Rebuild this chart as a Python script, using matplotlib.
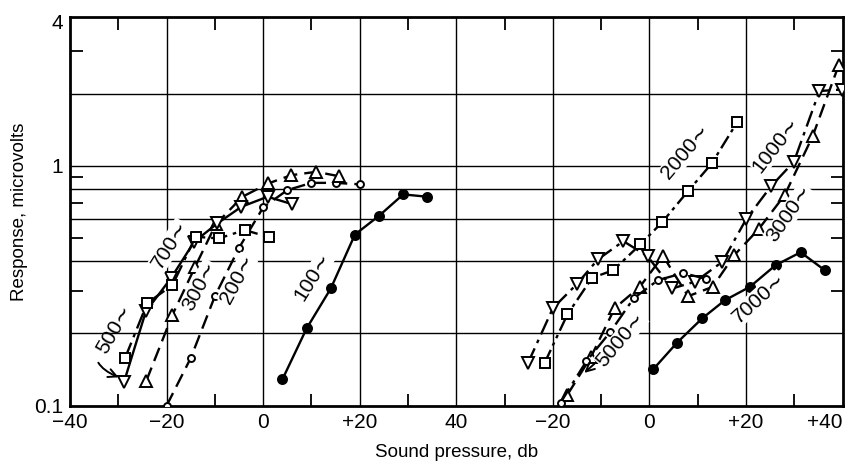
import numpy as np
import matplotlib
matplotlib.use("Agg")
import matplotlib.pyplot as plt

plt.rcParams['font.family'] = ['Liberation Sans', 'DejaVu Sans']

# left group (offset 40 on the shared axis), sound pressure in db
db100 = [4, 9, 14, 19, 24, 29, 34]
r100 = [0.129, 0.21, 0.308, 0.517, 0.619, 0.76, 0.743]
db200 = [-20, -15, -10, -5, 0, 5, 10, 15, 20]
r200 = [0.1, 0.158, 0.286, 0.455, 0.671, 0.792, 0.849, 0.849, 0.837]
db300 = [-24.2, -18.8, -14.1, -9.8, -4.3, 1.1, 5.8, 11.0, 15.7]
r300 = [0.127, 0.239, 0.379, 0.571, 0.743, 0.845, 0.914, 0.944, 0.905]
db500 = [-28.8, -24.3, -19.1, -14.3, -9.5, -4.5, 0.9, 6.0]
r500 = [0.126, 0.247, 0.34, 0.482, 0.575, 0.675, 0.743, 0.692]
db700 = [-28.6, -24.0, -18.8, -14.0, -9.2, -3.8, 1.3]
r700 = [0.158, 0.268, 0.318, 0.506, 0.498, 0.540, 0.503]

# right group (offset 120)
db1000 = [-25.2, -20.0, -15.0, -10.7, -5.4, -0.4, 4.7, 9.5, 15.1, 20.0, 25.2, 29.9, 35.2, 39.8]
r1000 = [0.150, 0.255, 0.322, 0.407, 0.485, 0.420, 0.308, 0.329, 0.398, 0.598, 0.823, 1.039, 2.05, 2.08]
db2000 = [-21.7, -17.0, -11.9, -7.5, -1.9, 2.6, 8.0, 12.9, 18.2]
r2000 = [0.151, 0.240, 0.341, 0.367, 0.470, 0.581, 0.785, 1.023, 1.525]
db3000 = [-17.0, -12.1, -7.2, -2.0, 2.8, 8.0, 13.1, 17.6, 22.6, 28.0, 33.8, 39.2]
r3000 = [0.111, 0.160, 0.255, 0.313, 0.421, 0.286, 0.313, 0.425, 0.544, 0.755, 1.33, 2.63]
db5000 = [-18.4, -13.1, -8.1, -3.3, 1.8, 7.0, 11.7]
r5000 = [0.103, 0.153, 0.203, 0.280, 0.334, 0.357, 0.338]
db7000 = [0.8, 5.7, 10.9, 15.6, 20.8, 26.1, 31.3, 36.3]
r7000 = [0.142, 0.183, 0.231, 0.275, 0.313, 0.385, 0.436, 0.367]

xtick_labels = ['\u221240', '\u221220', '0', '+20', '40', '\u221220', '0', '+20', '+40']

LEFT, RIGHT = 40, 120
dash = (0, (6, 3))
dashdot = (0, (7, 2.5, 1.5, 2.5))
dashdotdot = (0, (6, 2, 1.5, 2, 1.5, 2))

fig = plt.figure(figsize=(8.52, 4.61), dpi=100)
ax = fig.add_axes([0.0822, 0.12, 0.9068, 0.843])
ax.set_yscale('log')
ax.set_xlim(0, 160)
ax.set_ylim(0.1, 4.17)

for g in [0.2, 0.4, 0.6, 0.8, 1, 2]:
    ax.axhline(g, color='k', lw=1.0, zorder=1)
for g in range(20, 160, 20):
    ax.axvline(g, color='k', lw=1.0, zorder=1)

def curve(db, r, off, ls, marker, ms, filled=False):
    x = np.array(db) + off
    ax.plot(x, r, color='k', lw=1.7, ls=ls, marker=marker, ms=ms,
            mfc='k' if filled else 'white', mec='k', mew=1.4, zorder=3)

curve(db100, r100, LEFT, '-', 'o', 6.5, filled=True)
curve(db200, r200, LEFT, dash, 'o', 5)
curve(db300, r300, LEFT, dash, '^', 8)
curve(db500, r500, LEFT, '-', 'v', 8)
curve(db700, r700, LEFT, dashdot, 's', 7.5)

curve(db1000, r1000, RIGHT, dashdot, 'v', 8)
curve(db2000, r2000, RIGHT, dashdotdot, 's', 7.5)
curve(db3000, r3000, RIGHT, dash, '^', 8)
curve(db5000, r5000, RIGHT, dashdot, 'o', 5)
curve(db7000, r7000, RIGHT, '-', 'o', 6.5, filled=True)

lab = dict(fontsize=15, ha='center', va='center', zorder=4,
           bbox=dict(fc='white', ec='none', pad=0.3))
ax.text(20.7, 0.467, '700\u223c', rotation=58, **lab)
ax.text(26.9, 0.315, '300\u223c', rotation=62, **lab)
ax.text(34.6, 0.335, '200\u223c', rotation=62, **lab)
ax.text(50.3, 0.344, '100\u223c', rotation=58, **lab)
ax.text(127.5, 1.14, '2000\u223c', rotation=50, **lab)
ax.text(146.2, 1.22, '1000\u223c', rotation=52, **lab)
ax.text(148.9, 0.63, '3000\u223c', rotation=55, **lab)
ax.text(142.7, 0.281, '7000\u223c', rotation=42, **lab)
ax.annotate('500\u223c', xy=(db500[0] + LEFT - 0.6, 0.13), xytext=(9.3, 0.207),
            rotation=60, fontsize=15, ha='center', va='center', zorder=4,
            arrowprops=dict(arrowstyle='->', color='k', lw=1.4,
                            connectionstyle='arc3,rad=0.9', shrinkA=2, shrinkB=2))
ax.annotate('5000\u223c', xy=(-13.5 + RIGHT, 0.137), xytext=(114.1, 0.188),
            rotation=50, fontsize=15, ha='center', va='center', zorder=4,
            bbox=dict(fc='white', ec='none', pad=0.3),
            arrowprops=dict(arrowstyle='->', color='k', lw=1.4, shrinkA=2, shrinkB=0))

ax.set_xticks(range(0, 161, 20))
ax.set_xticklabels(xtick_labels)
ax.get_xticklabels()[-1].set_horizontalalignment('right')
ax.set_xticks(range(10, 160, 20), minor=True)
ax.set_yticks([0.1, 1, 4])
ax.set_yticklabels(['0.1', '1', '4'])
ax.set_yticks([0.3, 0.5, 0.7, 0.9, 3], minor=True)
ax.yaxis.set_minor_formatter(plt.NullFormatter())
ax.tick_params(which='major', length=0, labelsize=15, pad=5)
ax.tick_params(which='minor', direction='in', length=9, width=1.3,
               top=True, right=True)
for s in ax.spines.values():
    s.set_linewidth(2.0)

ax.set_xlabel('Sound pressure, db', fontsize=13.5, labelpad=9)
ax.set_ylabel('Response, microvolts', fontsize=13.5, labelpad=4)

fig.savefig('out.png', dpi=100)
